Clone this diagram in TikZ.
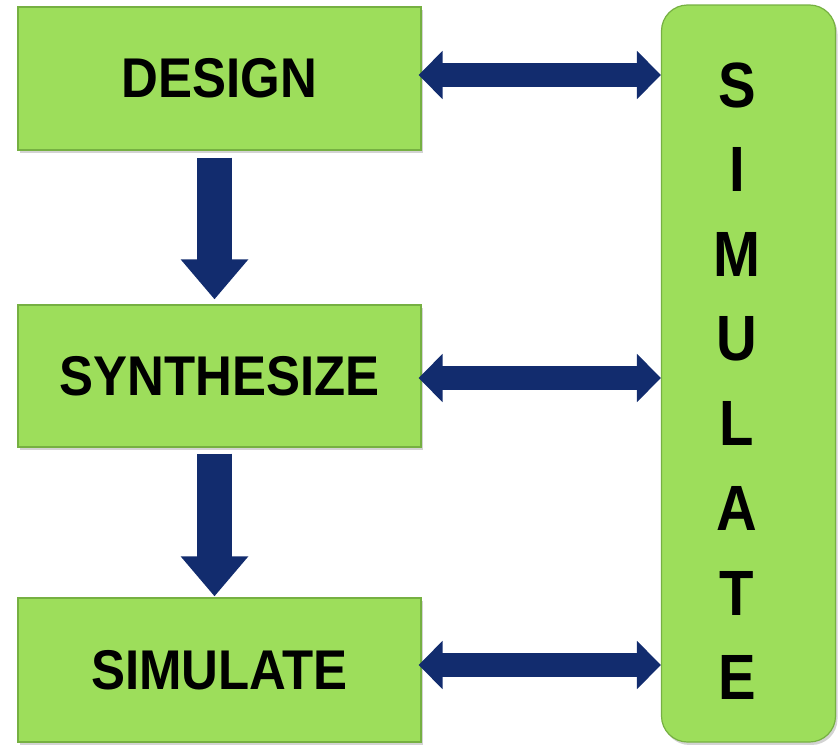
\documentclass[tikz,border=0pt]{standalone}
\usepackage{fontspec}
\setmainfont{Liberation Sans}
\usepackage{graphicx}
\usetikzlibrary{arrows.meta,shadows,calc}
\definecolor{boxgreen}{RGB}{157,222,91}
\definecolor{boxedge}{RGB}{118,176,66}
\definecolor{navy}{RGB}{18,44,110}
\begin{document}
\begin{tikzpicture}[x=1pt,y=-1pt,
  stepbox/.style={fill=boxgreen, draw=boxedge, line width=1.2pt, inner sep=0pt,
    minimum width=403pt, drop shadow={shadow xshift=2pt, shadow yshift=-3pt, opacity=0.35},
    font=\bfseries\fontsize{56}{60}\selectfont},
  sidebox/.style={fill=boxgreen, draw=boxedge, line width=1.2pt, rounded corners=26pt,
    minimum width=174pt, minimum height=737pt, inner sep=0pt,
    drop shadow={shadow xshift=2pt, shadow yshift=-3pt, opacity=0.35}},
  letter/.style={font=\bfseries\fontsize{64}{64}\selectfont, inner sep=0pt},
  downarrow/.style={draw=navy, line width=35pt, -{Triangle[width=65pt,length=40pt]}},
  sidearrow/.style={draw=navy, line width=24pt,
    {Triangle[width=47pt,length=24pt]}-{Triangle[width=47pt,length=24pt]}}
]
\useasboundingbox (0,0) rectangle (840,744);

\node[stepbox, minimum height=143pt] (d) at (219.5,78.5) {\scalebox{0.91}[1]{DESIGN}};
\node[stepbox, minimum height=142pt] (s) at (219.5,376) {\scalebox{0.91}[1]{SYNTHESIZE}};
\node[stepbox, minimum height=144pt] (m) at (219.5,670) {\scalebox{0.91}[1]{SIMULATE}};
\node[sidebox] (r) at (748.5,373.5) {};

\foreach \ch [count=\i] in {S,I,M,U,L,A,T,E}
  \node[letter] (l\i) at (737, {85+84.7*(\i-1)}) {\scalebox{0.88}[1]{\ch}};

\coordinate (d1) at ($(d.south)+(-5,7)$);
\coordinate (d2) at ($(s.north)+(-5,-5)$);
\draw[downarrow] (d1) -- (d2);
\coordinate (d3) at ($(s.south)+(-5,6)$);
\coordinate (d4) at ($(m.north)+(-5,-1)$);
\draw[downarrow] (d3) -- (d4);

\coordinate (a1) at ($(d.east)+(-3,-3.5)$);
\coordinate (a2) at ($(s.east)+(-3,2)$);
\coordinate (a3) at ($(m.east)+(-3,-5)$);
\draw[sidearrow] (a1) -- (a1 -| r.west);
\draw[sidearrow] (a2) -- (a2 -| r.west);
\draw[sidearrow] (a3) -- (a3 -| r.west);
\end{tikzpicture}
\end{document}
